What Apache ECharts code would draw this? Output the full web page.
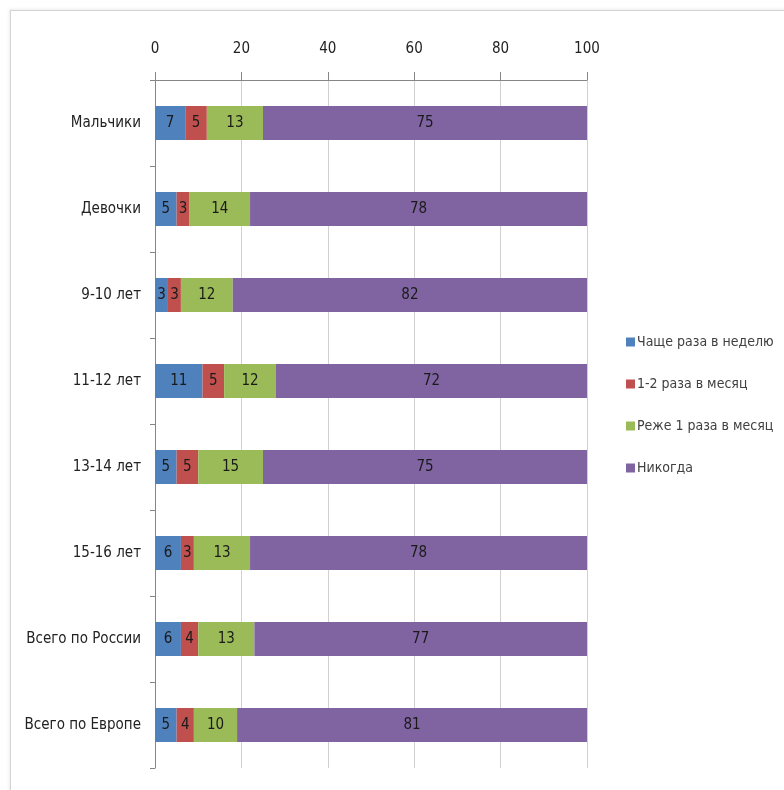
<!DOCTYPE html>
<html>
<head>
<meta charset="utf-8">
<script src="https://cdn.jsdelivr.net/npm/echarts@6/dist/echarts.min.js"></script>
<style>
html,body{margin:0;padding:0;background:#fff;}
#frame{position:absolute;left:10px;top:10px;width:790px;height:800px;border-left:1px solid #d4d4d4;border-top:1px solid #d4d4d4;box-shadow:-1px -1px 3px rgba(0,0,0,0.08);}
#chart{position:absolute;left:0;top:0;width:784px;height:790px;}
</style>
</head>
<body>
<div id="frame"></div>
<div id="chart"></div>
<script>
const categories = ['Мальчики','Девочки','9-10 лет','11-12 лет','13-14 лет','15-16 лет','Всего по России','Всего по Европе'];
const seriesNames = ['Чаще раза в неделю','1-2 раза в месяц','Реже 1 раза в месяц','Никогда'];
const weekly  = [7,5,3,11,5,6,6,5];
const monthly = [5,3,3,5,5,3,4,4];
const rarely  = [13,14,12,12,15,13,13,10];
const never   = [75,78,82,72,75,78,77,81];
const xTicks = [0,20,40,60,80,100];
const colors = ['#4F81BD','#C0504D','#9BBB59','#8064A2'];
const values = [weekly, monthly, rarely, never];
const FONT = "'DejaVu Sans Condensed','Liberation Sans Narrow',sans-serif";

const chart = echarts.init(document.getElementById('chart'));
chart.setOption({
  animation:false,
  textStyle:{fontFamily:FONT},
  grid:{left:155,right:197,top:80,height:688,containLabel:false},
  legend:{
    orient:'vertical',left:621,top:330,itemGap:28,itemWidth:9,itemHeight:9,icon:'rect',
    data:seriesNames,
    textStyle:{fontFamily:FONT,fontSize:14,color:'#404040',padding:[0,0,0,-3]}
  },
  xAxis:{
    type:'value',position:'top',min:0,max:100,interval:20,
    axisLine:{show:true,lineStyle:{color:'#868686'}},
    axisTick:{show:true,length:8,lineStyle:{color:'#868686'}},
    axisLabel:{margin:23,fontSize:15,color:'#222',fontFamily:FONT,
      formatter:v=>xTicks.includes(v)?String(v):''},
    splitLine:{show:true,lineStyle:{color:'#d0d0d0'}}
  },
  yAxis:{
    type:'category',inverse:true,data:categories,
    axisLine:{show:true,lineStyle:{color:'#868686'}},
    axisTick:{show:true,length:5,lineStyle:{color:'#868686'}},
    axisLabel:{margin:14,fontSize:15,color:'#222',fontFamily:FONT}
  },
  series: seriesNames.map((n,i)=>({
    name:n,type:'bar',stack:'s',barWidth:34,data:values[i],
    itemStyle:{color:colors[i]},
    label:{show:true,position:'inside',color:'#1a1a1a',fontSize:15,fontFamily:FONT}
  }))
});
</script>
</body>
</html>
